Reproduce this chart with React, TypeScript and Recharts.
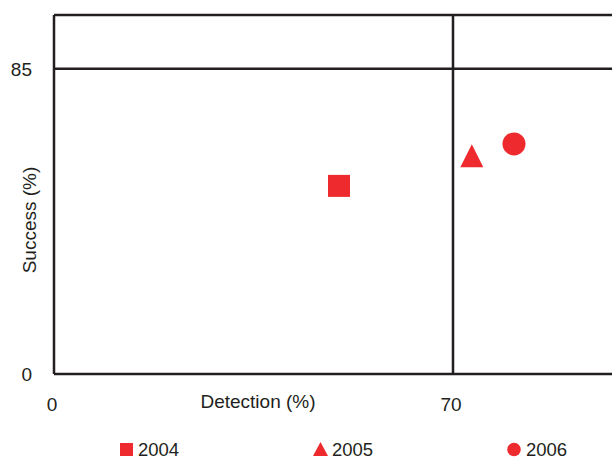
import React from 'react';
import { ScatterChart, Scatter, XAxis, YAxis, ReferenceLine, Legend } from 'recharts';

const years = ['2004', '2005', '2006'];
const detection = [50, 73.3, 80.7];
const success = [52.4, 60.8, 64.1];
const xTicks = [0, 70];
const yTicks = [0, 85];

const RED = '#ee2a2e';
const INK = '#231f20';
const FONT = '"Liberation Sans", Arial, sans-serif';

const points = years.map((year, i) => [{ year, x: detection[i], y: success[i] }]);

const Square = (p: any) => <rect x={p.cx - 11} y={p.cy - 11} width={22} height={22} fill={RED} />;
const Triangle = (p: any) => (
  <polygon
    points={`${p.cx},${p.cy - 11.5} ${p.cx + 11.5},${p.cy + 11.5} ${p.cx - 11.5},${p.cy + 11.5}`}
    fill={RED}
  />
);
const Dot = (p: any) => <circle cx={p.cx} cy={p.cy} r={11.5} fill={RED} />;

const shapes = [Square, Triangle, Dot];

const legendIcon = (i: number) => {
  if (i === 0) return <rect x={1} y={2} width={13} height={13} fill={RED} />;
  if (i === 1) return <polygon points="7.5,1 15,15 0,15" fill={RED} />;
  return <circle cx={7} cy={8.5} r={6.8} fill={RED} />;
};

const legendLeft = [119, 313, 507];

const XTick = (props: any) => (
  <text x={props.x - 2} y={props.y + 37} textAnchor="middle" fill={INK} fontSize={19} fontFamily={FONT}>
    {props.payload.value}
  </text>
);

const YTick = (props: any) => (
  <text x={props.x - 22} y={props.y + 7} textAnchor="end" fill={INK} fontSize={19} fontFamily={FONT}>
    {props.payload.value}
  </text>
);

const LegendContent = () => (
  <div style={{ position: 'relative', width: 612, height: 30 }}>
    {years.map((y, i) => (
      <div
        key={y}
        style={{
          position: 'absolute',
          left: legendLeft[i],
          top: 9,
          height: 21,
          display: 'flex',
          alignItems: 'center',
          fontFamily: FONT,
          fontSize: 18.5,
          color: INK,
          lineHeight: '21px',
        }}
      >
        <svg width={16} height={17} style={{ marginRight: 3 }}>
          {legendIcon(i)}
        </svg>
        {y}
      </div>
    ))}
  </div>
);

export default function App() {
  return (
    <div style={{ position: 'absolute', left: 0, top: 0, width: 612, height: 460, overflow: 'hidden', background: '#fff' }}>
      <ScatterChart width={624} height={460} margin={{ top: 15, right: 0, bottom: 0, left: 0 }}>
        <XAxis
          type="number"
          dataKey="x"
          domain={[0, 100]}
          ticks={xTicks}
          tickLine={false}
          tickSize={0}
          tickMargin={0}
          axisLine={{ stroke: INK, strokeWidth: 2.5 }}
          tick={<XTick />}
          height={56}
          label={{
            content: (p: any) => (
              <text
                x={p.viewBox.x + 204}
                y={p.viewBox.y + 34}
                textAnchor="middle"
                fill={INK}
                fontSize={19}
                fontFamily={FONT}
              >
                Detection (%)
              </text>
            ),
          }}
        />
        <YAxis
          type="number"
          dataKey="y"
          domain={[0, 100]}
          ticks={yTicks}
          tickLine={false}
          tickSize={0}
          tickMargin={0}
          axisLine={{ stroke: INK, strokeWidth: 2.5 }}
          tick={<YTick />}
          width={54}
          label={{
            content: () => (
              <text
                x={36}
                y={220}
                transform="rotate(-90 36 220)"
                textAnchor="middle"
                fill={INK}
                fontSize={19}
                fontFamily={FONT}
              >
                Success (%)
              </text>
            ),
          }}
        />
        <ReferenceLine y={100} stroke={INK} strokeWidth={2.5} ifOverflow="extendDomain" />
        <ReferenceLine y={85} stroke={INK} strokeWidth={2.5} />
        <ReferenceLine x={70} stroke={INK} strokeWidth={2.5} />
        {points.map((data, i) => (
          <Scatter
            key={years[i]}
            name={years[i]}
            data={data}
            fill={RED}
            shape={shapes[i]}
            isAnimationActive={false}
          />
        ))}
        <Legend
          verticalAlign="bottom"
          height={30}
          wrapperStyle={{ left: 0, width: 612 }}
          content={<LegendContent />}
        />
      </ScatterChart>
    </div>
  );
}
